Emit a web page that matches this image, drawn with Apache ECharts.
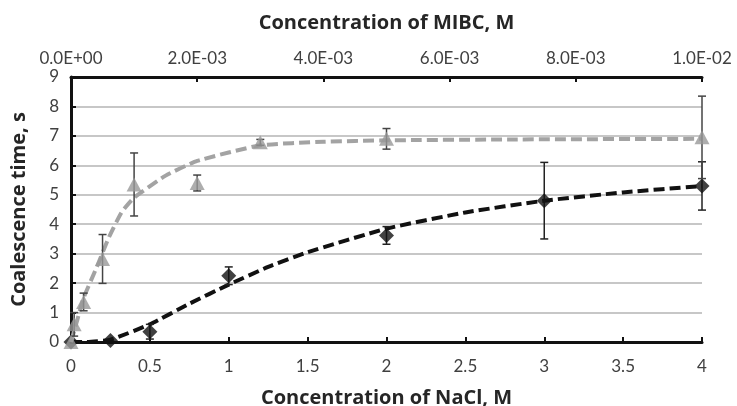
<!DOCTYPE html>
<html>
<head>
<meta charset="utf-8">
<script src="https://cdn.jsdelivr.net/npm/echarts@6/dist/echarts.min.js"></script>
<style>
  html, body { margin: 0; padding: 0; background: #fff; }
  #chart { width: 737px; height: 406px; }
</style>
</head>
<body>
<div id="chart"></div>
<script>
// NaCl data (bottom axis)
const naclConc = [0, 0.25, 0.5, 1, 2, 3, 4];
const naclTime = [0, 0.05, 0.35, 2.25, 3.62, 4.8, 5.3];
const naclErr = [0, 0, 0.25, 0.3, 0.3, 1.3, 0.82];

// MIBC data (top axis)
const mibcConc = [0, 0.00005, 0.0002, 0.0005, 0.001, 0.002, 0.003, 0.005, 0.01];
const mibcTime = [0, 0.6, 1.36, 2.82, 5.35, 5.4, 6.78, 6.9, 6.95];
const mibcErr = [0, 0.4, 0.3, 0.83, 1.07, 0.27, 0.1, 0.35, 1.4];

// trend lines
const naclFitX = [0, 0.1, 0.25, 0.5, 0.75, 1, 1.25, 1.5, 2, 2.5, 3, 3.5, 4];
const naclFitY = [0, 0, 0.08, 0.6, 1.3, 1.95, 2.55, 3.05, 3.85, 4.4, 4.8, 5.08, 5.3];
const mibcFitX = [0, 0.0001, 0.0002, 0.0004, 0.0006, 0.0008, 0.001, 0.0015, 0.002, 0.003, 0.004, 0.005, 0.007, 0.01];
const mibcFitY = [0, 0.75, 1.5, 2.5, 3.55, 4.4, 4.9, 5.65, 6.15, 6.68, 6.8, 6.85, 6.88, 6.9];

const FONT = 'Lato';
const TITLE_FONT = 'Open Sans';

function zip(a, b, c) {
    let out = [];
    for (let i = 0; i < a.length; i++) {
        out.push(c ? [a[i], b[i], c[i]] : [a[i], b[i]]);
    }
    return out;
}

function sciLabel(v) {
    let s = Number(v).toExponential(1).split('e');
    let exp = parseInt(s[1], 10);
    let sign = exp < 0 ? '-' : '+';
    let e = Math.abs(exp);
    return s[0] + 'E' + sign + (e < 10 ? '0' + e : e);
}

function errorBars(color) {
    return function (params, api) {
        let x = api.value(0), y = api.value(1), e = api.value(2);
        if (!e) return null;
        let hi = api.coord([x, y + e]);
        let lo = api.coord([x, y - e]);
        let w = 4;
        let style = { stroke: color, lineWidth: 1.5 };
        return {
            type: 'group',
            children: [
                { type: 'line', shape: { x1: hi[0], y1: hi[1], x2: lo[0], y2: lo[1] }, style: style },
                { type: 'line', shape: { x1: hi[0] - w, y1: hi[1], x2: hi[0] + w, y2: hi[1] }, style: style },
                { type: 'line', shape: { x1: lo[0] - w, y1: lo[1], x2: lo[0] + w, y2: lo[1] }, style: style }
            ]
        };
    };
}

const chart = echarts.init(document.getElementById('chart'));

let titleStyle = { fontFamily: TITLE_FONT, fontSize: 20, fontWeight: 'bold', color: '#262626' };

let option = {
    animation: false,
    backgroundColor: '#fff',
    grid: { left: 71, right: 35, top: 77, bottom: 64, outerBoundsMode: 'none' },
    xAxis: [
        {
            type: 'value', position: 'bottom',
            min: 0, max: 4, interval: 0.5,
            name: 'Concentration of NaCl, M',
            nameLocation: 'middle', nameGap: 46,
            nameTextStyle: titleStyle,
            axisLine: { onZero: false, lineStyle: { color: '#111', width: 3 } },
            axisTick: { inside: true, length: 5, lineStyle: { color: '#111', width: 2 } },
            axisLabel: { fontFamily: FONT, fontSize: 17, color: '#404040', margin: 16 },
            splitLine: { show: false }
        },
        {
            type: 'value', position: 'top',
            min: 0, max: 0.01, interval: 0.002,
            name: 'Concentration of MIBC, M',
            nameLocation: 'middle', nameGap: 44,
            nameTextStyle: titleStyle,
            axisLine: { onZero: false, lineStyle: { color: '#111', width: 3 } },
            axisTick: { inside: true, length: 5, lineStyle: { color: '#111', width: 2 } },
            axisLabel: { fontFamily: FONT, fontSize: 17, color: '#404040', margin: 10, formatter: sciLabel },
            splitLine: { show: false }
        }
    ],
    yAxis: {
        type: 'value',
        min: 0, max: 9, interval: 1,
        name: 'Coalescence time, s',
        nameLocation: 'middle', nameGap: 42,
        nameTextStyle: titleStyle,
        axisLine: { show: true, lineStyle: { color: '#111', width: 3 } },
        axisTick: { show: true, inside: true, length: 5, lineStyle: { color: '#111', width: 2 } },
        axisLabel: { fontFamily: FONT, fontSize: 17, color: '#404040', margin: 12 },
        splitLine: { lineStyle: { color: '#b4b4b4', width: 1.5 } }
    },
    series: [
        {
            name: 'NaCl fit', type: 'line', xAxisIndex: 0,
            data: zip(naclFitX, naclFitY),
            smooth: 0.15, showSymbol: false, silent: true,
            lineStyle: { color: '#111', width: 4, type: [11, 5] },
            z: 2
        },
        {
            name: 'NaCl err', type: 'custom', xAxisIndex: 0,
            data: zip(naclConc, naclTime, naclErr),
            renderItem: errorBars('#222'),
            encode: { x: 0, y: 1 },
            z: 3
        },
        {
            name: 'NaCl', type: 'scatter', xAxisIndex: 0,
            data: zip(naclConc, naclTime),
            symbol: 'diamond', symbolSize: [15, 15],
            itemStyle: { color: '#111' },
            z: 4
        },
        {
            name: 'MIBC fit', type: 'line', xAxisIndex: 1,
            data: zip(mibcFitX, mibcFitY),
            smooth: 0.15, showSymbol: false, silent: true,
            lineStyle: { color: '#a3a3a3', width: 4, type: [11, 5] },
            z: 5
        },
        {
            name: 'MIBC err', type: 'custom', xAxisIndex: 1,
            data: zip(mibcConc, mibcTime, mibcErr),
            renderItem: errorBars('#444'),
            encode: { x: 0, y: 1 },
            z: 6
        },
        {
            name: 'MIBC', type: 'scatter', xAxisIndex: 1,
            data: zip(mibcConc, mibcTime),
            symbol: 'triangle', symbolSize: [15, 14],
            itemStyle: { color: '#999' },
            z: 7
        }
    ]
};

chart.setOption(option);
</script>
</body>
</html>
